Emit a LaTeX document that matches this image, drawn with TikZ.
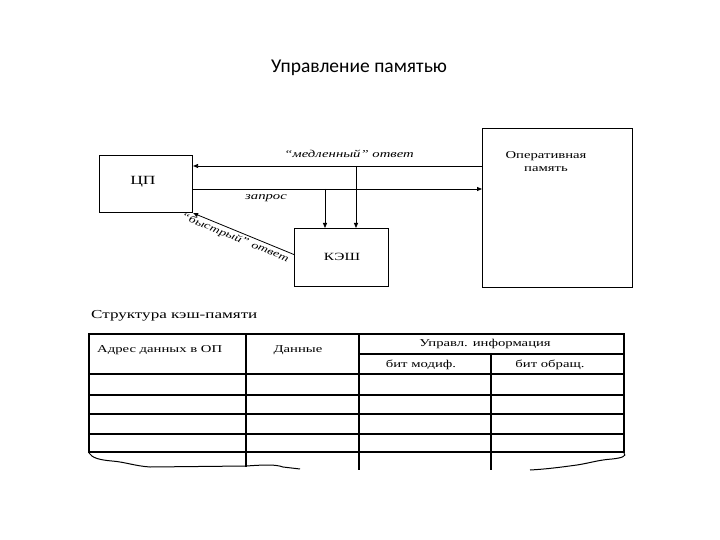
\documentclass[tikz,border=0pt]{standalone}
\usepackage{fontspec}
\setmainfont{Liberation Serif}
\newfontfamily\titlefont{Carlito}
\newfontfamily\wide[FakeStretch=1.4]{Liberation Serif}
\usetikzlibrary{arrows.meta}
\begin{document}
\begin{tikzpicture}[x=1pt,y=-1pt,
  box/.style={draw, line width=1.1pt, inner sep=0pt, anchor=north west},
  conn/.style={line width=0.8pt, -{Triangle[length=5pt,width=4pt]}},
  lbl/.style={font=\wide\itshape\fontsize{10.5}{12}\selectfont, inner sep=0pt},
  btxt/.style={font=\wide\fontsize{11}{13}\selectfont, inner sep=0pt},
  ttxt/.style={font=\wide\fontsize{10.5}{12}\selectfont, inner sep=0pt},
  tline/.style={line width=1.1pt},
  torn/.style={line width=1pt}]
\useasboundingbox (0,0) rectangle (720,540);
\fill[white] (0,0) rectangle (720,540);

% title
\node[font=\titlefont\fontsize{19.5}{22}\selectfont, inner sep=0pt] (title) at (359,68) {Управление памятью};

% boxes
\node[box, minimum width=93pt, minimum height=57pt] (cpu) at (99,155) {};
\node[btxt, font=\wide\fontsize{12.5}{14}\selectfont] (cputxt) at (143,182) {ЦП};
\node[box, minimum width=94pt, minimum height=58pt] (kesh) at (294,228) {};
\node[btxt] (keshtxt) at (342,257) {КЭШ};
\node[box, minimum width=150pt, minimum height=159pt] (op) at (482,128) {};
\node[btxt, align=center, font=\wide\fontsize{10.5}{13}\selectfont] (optxt) at (546,162) {Оперативная\\память};

% helper levels
\coordinate (yslow) at (0,166);
\coordinate (yreq) at (0,189);
\coordinate (xa) at (325,189);
\coordinate (xb) at (356,166);

% connectors
\draw[conn] (op.west |- yslow) -- (cpu.east |- yslow);
\draw[conn] (cpu.east |- yreq) -- (op.west |- yreq);
\draw[conn] (xa) -- (xa |- kesh.north);
\draw[conn] (xb) -- (xb |- kesh.north);
\draw[conn] ([yshift=3pt]kesh.west) -- (cpu.south east);

% labels
\node[lbl] (lslow) at (349,154) {“медленный” ответ};
\node[lbl] (lreq) at (266,198) {запрос};
\node[lbl, rotate=-22, font=\wide\itshape\fontsize{10}{12}\selectfont] (lfast) at (235,238) {“быстрый” ответ};

% table caption
\node[ttxt, anchor=west, font=\wide\fontsize{12.2}{14}\selectfont] (cap) at (91,316) {Структура кэш-памяти};

% table lines
\draw[tline] (89,453) -- (89,334) -- (624,334) -- (624,453);
\draw[tline] (246,334) -- (246,467);
\draw[tline] (359,334) -- (359,470);
\draw[tline] (491,354) -- (491,470);
\draw[tline] (359,354) -- (624,354);
\foreach \yy in {374,395,414,434,452}
  \draw[tline] (89,\yy) -- (624,\yy);
% torn edges
\draw[torn] (89,453) .. controls (92,458) and (100,460) .. (112,461)
  .. controls (125,462) and (135,466) .. (150,467) -- (246,466)
  .. controls (262,465) and (275,464) .. (283,467) -- (300,469);
\draw[torn] (624,453) .. controls (627,456) and (622,458) .. (612,459)
  .. controls (598,460) and (590,463) .. (577,465)
  .. controls (562,467) and (548,469) .. (530,470);

% table texts
\node[ttxt, anchor=west] (c1) at (97,350) {Адрес данных в ОП};
\node[ttxt] (c2) at (298,350) {Данные};
\node[ttxt] (c3) at (485,344) {Управл. информация};
\node[ttxt] (c4) at (421,365) {бит модиф.};
\node[ttxt] (c5) at (550,365) {бит обращ.};
\end{tikzpicture}
\end{document}
